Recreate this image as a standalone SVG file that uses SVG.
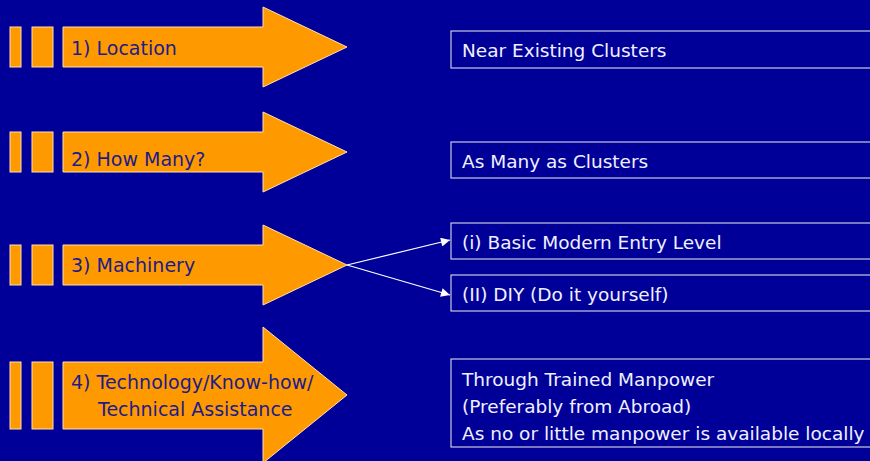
<svg xmlns="http://www.w3.org/2000/svg" width="870" height="461" viewBox="0 0 870 461">
<defs>
<style>
.bar{fill:#FF9900;stroke:#FFE0B0;stroke-width:1}
.lbl{font-family:"DejaVu Sans",Verdana,sans-serif;font-size:19px;fill:#1C1C8C}
.box{fill:none;stroke:#C8C8E0;stroke-width:1.2}
.bt{font-family:"DejaVu Sans",Verdana,sans-serif;font-size:18.5px;fill:#F0F0FF}
.con{stroke:#FFFFFF;stroke-width:1.2;fill:none;marker-end:url(#ah)}
</style>
<marker id="ah" viewBox="0 0 10 10" refX="10" refY="5" markerWidth="11" markerHeight="9" markerUnits="userSpaceOnUse" orient="auto">
<path d="M0,0 L10,5 L0,10 z" fill="#FFFFFF"/>
</marker>
</defs>
<rect width="870" height="461" fill="#000099"/>
<g id="arrow1">
<rect class="bar" x="10" y="27" width="11" height="40"/>
<rect class="bar" x="32" y="27" width="21" height="40"/>
<path class="bar" d="M63,27 H263 V7 L347,47 L263,87 V67 H63 Z"/>
<text class="lbl" x="71" y="55">1) Location</text>
</g>
<g id="arrow2">
<rect class="bar" x="10" y="132" width="11" height="40"/>
<rect class="bar" x="32" y="132" width="21" height="40"/>
<path class="bar" d="M63,132 H263 V112 L347,152 L263,192 V172 H63 Z"/>
<text class="lbl" x="71" y="166">2) How Many?</text>
</g>
<g id="arrow3">
<rect class="bar" x="10" y="245" width="11" height="40"/>
<rect class="bar" x="32" y="245" width="21" height="40"/>
<path class="bar" d="M63,245 H263 V225 L347,265 L263,305 V285 H63 Z"/>
<text class="lbl" x="71" y="272">3) Machinery</text>
</g>
<g id="arrow4">
<rect class="bar" x="10" y="362" width="11" height="67"/>
<rect class="bar" x="32" y="362" width="21" height="67"/>
<path class="bar" d="M63,362 H263 V327 L347,395 L263,463 V429 H63 Z"/>
<text class="lbl" x="71" y="389">4) Technology/Know-how/</text>
<text class="lbl" x="98" y="416">Technical Assistance</text>
</g>
<g id="box1">
<rect class="box" x="451" y="31" width="425" height="37"/>
<text class="bt" x="462" y="57">Near Existing Clusters</text>
</g>
<g id="box2">
<rect class="box" x="451" y="142" width="425" height="36"/>
<text class="bt" x="462" y="168">As Many as Clusters</text>
</g>
<g id="box3">
<rect class="box" x="451" y="223" width="425" height="36"/>
<text class="bt" x="462" y="249">(i) Basic Modern Entry Level</text>
</g>
<g id="box4">
<rect class="box" x="451" y="275" width="425" height="36"/>
<text class="bt" x="462" y="301">(II) DIY (Do it yourself)</text>
</g>
<g id="box5">
<rect class="box" x="451" y="359" width="425" height="88"/>
<text class="bt" x="462" y="386">Through Trained Manpower</text>
<text class="bt" x="462" y="413">(Preferably from Abroad)</text>
<text class="bt" x="462" y="440">As no or little manpower is available locally</text>
</g>
<g id="connectors">
<line class="con" x1="347" y1="265" x2="450" y2="240"/>
<line class="con" x1="347" y1="265" x2="450" y2="295"/>
</g>
</svg>
